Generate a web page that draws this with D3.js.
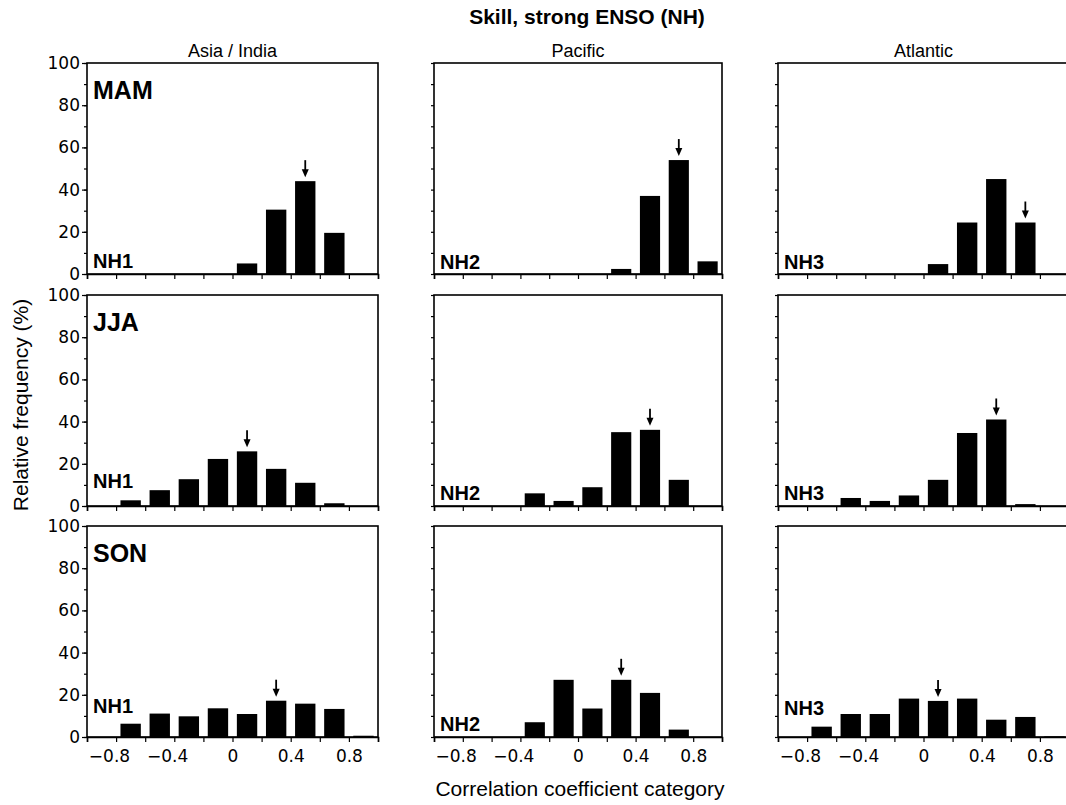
<!DOCTYPE html>
<html>
<head>
<meta charset="utf-8">
<script src="https://cdn.jsdelivr.net/npm/d3@7"></script>
<style>
  html, body { margin: 0; padding: 0; background: #fff; }
  svg { display: block; }
  text { fill: #000; }
</style>
</head>
<body>
<svg id="chart" width="1066" height="805"></svg>
<script>
// ---------------- DATA ----------------
const binCenters = [-0.9, -0.7, -0.5, -0.3, -0.1, 0.1, 0.3, 0.5, 0.7, 0.9];
const seasons = ["MAM", "JJA", "SON"];
const regions = ["Asia / India", "Pacific", "Atlantic"];
const regionCodes = ["NH1", "NH2", "NH3"];
const xTickLabels = [-0.8, -0.4, 0, 0.4, 0.8];
const yTickLabels = [0, 20, 40, 60, 80, 100];

// relative frequency (%) per correlation category, one array per panel
const mamAsia     = [0, 0, 0, 0, 0, 5, 30.5, 44, 19.5, 0];
const mamPacific  = [0, 0, 0, 0, 0, 0, 2.4, 37, 54, 6];
const mamAtlantic = [0, 0, 0, 0, 0, 4.7, 24.4, 45, 24.4, 0];
const jjaAsia     = [0, 2.7, 7.5, 12.7, 22.3, 25.9, 17.6, 11, 1.3, 0];
const jjaPacific  = [0, 0, 0, 6, 2.4, 8.9, 35, 36.1, 12.4, 0];
const jjaAtlantic = [0, 0, 3.8, 2.4, 5, 12.4, 34.6, 41, 0.9, 0];
const sonAsia     = [0, 6.3, 11.1, 9.8, 13.6, 10.9, 17.2, 15.8, 13.3, 0.6];
const sonPacific  = [0, 0, 0, 7, 27.1, 13.5, 27.1, 20.9, 3.5, 0];
const sonAtlantic = [0, 4.9, 10.9, 10.9, 18.2, 17.1, 18.2, 8.2, 9.5, 0.3];

// category marked by the arrow (per region)
const mamArrow = [0.5, 0.7, 0.7];
const jjaArrow = [0.1, 0.5, 0.5];
const sonArrow = [0.3, 0.3, 0.1];

const panelValues = [
  [mamAsia, mamPacific, mamAtlantic],
  [jjaAsia, jjaPacific, jjaAtlantic],
  [sonAsia, sonPacific, sonAtlantic]
];
const panelArrows = [mamArrow, jjaArrow, sonArrow];

// ---------------- LAYOUT ----------------
const colX = [87, 434, 778];
const colW = [291, 288, 291];
const rowY = [63, 295, 526];
const rowH = 211;
const codeLift = [[6, 5, 5], [18, 6, 6], [24, 6, 22]];
const barHalf = 0.07;
const tickFont = "DejaVu Sans, Verdana, sans-serif";
const labelFont = "Liberation Sans, Arial, Helvetica, sans-serif";

const svg = d3.select("#chart");

// Title
svg.append("text")
  .attr("x", 587).attr("y", 24)
  .attr("text-anchor", "middle")
  .style("font-family", labelFont)
  .style("font-weight", "bold")
  .style("font-size", "21px")
  .text("Skill, strong ENSO (NH)");

// Column titles
regions.forEach((r, c) => {
  svg.append("text")
    .attr("x", colX[c] + colW[c] / 2).attr("y", 57)
    .attr("text-anchor", "middle")
    .style("font-family", labelFont)
    .style("font-size", "18px")
    .text(r);
});

// Axis titles
svg.append("text")
  .attr("transform", "translate(28,405) rotate(-90)")
  .attr("text-anchor", "middle")
  .style("font-family", labelFont)
  .style("font-size", "21px")
  .text("Relative frequency (%)");

svg.append("text")
  .attr("x", 580).attr("y", 796)
  .attr("text-anchor", "middle")
  .style("font-family", labelFont)
  .style("font-size", "21px")
  .text("Correlation coefficient category");

const xTickAll = d3.range(11).map(i => Math.round((-1 + i * 0.2) * 10) / 10);
const yTickAll = d3.range(11).map(i => i * 10);
const fmtX = v => {
  const r = Math.round(v * 10) / 10;
  if (!xTickLabels.includes(r)) return "";
  if (r === 0) return "0";
  return (r < 0 ? "\u2212" : "") + Math.abs(r).toFixed(1);
};

for (let r = 0; r < 3; r++) {
  for (let c = 0; c < 3; c++) {
    const x0 = colX[c], w = colW[c], y0 = rowY[r];
    const x = d3.scaleLinear().domain([-1, 1]).range([x0, x0 + w]);
    const y = d3.scaleLinear().domain([0, 100]).range([y0 + rowH, y0]);
    const g = svg.append("g");
    const vals = panelValues[r][c];

    // bars
    g.selectAll("rect.bar")
      .data(binCenters.map((b, i) => ({ b, v: vals[i] })).filter(d => d.v > 0))
      .enter().append("rect")
      .attr("class", "bar")
      .attr("x", d => x(d.b - barHalf))
      .attr("width", d => x(d.b + barHalf) - x(d.b - barHalf))
      .attr("y", d => y(d.v))
      .attr("height", d => y(0) - y(d.v))
      .attr("fill", "#000");

    // frame
    g.append("rect")
      .attr("x", x0).attr("y", y0)
      .attr("width", w).attr("height", rowH)
      .attr("fill", "none")
      .attr("stroke", "#000")
      .attr("stroke-width", 1.6);

    // x axis
    const xa = g.append("g")
      .attr("transform", `translate(0,${y0 + rowH})`)
      .call(d3.axisBottom(x).tickValues(xTickAll).tickSize(5).tickPadding(8)
        .tickFormat(r === 2 ? fmtX : () => ""));
    xa.select(".domain").attr("stroke-width", 1.6);
    xa.selectAll(".tick line").attr("stroke-width", 1.2);
    xa.selectAll(".tick text")
      .style("font-family", tickFont)
      .style("font-size", "17px")
      .attr("dx", d => (d < 0 ? "-0.42em" : 0));

    // y axis minor ticks
    const ya = g.append("g")
      .attr("transform", `translate(${x0},0)`)
      .call(d3.axisLeft(y).tickValues(yTickAll).tickSize(3).tickFormat(() => ""));
    ya.select(".domain").remove();
    ya.selectAll(".tick line").attr("stroke-width", 1.2);

    if (c === 0) {
      const yl = g.append("g")
        .attr("transform", `translate(${x0},0)`)
        .call(d3.axisLeft(y).tickValues(yTickLabels).tickSize(5).tickPadding(2));
      yl.select(".domain").remove();
      yl.selectAll(".tick line").attr("stroke-width", 1.2);
      yl.selectAll(".tick text")
        .style("font-family", tickFont)
        .style("font-size", "17px");
    }

    // arrow over the marked category
    const ab = panelArrows[r][c];
    const ai = binCenters.findIndex(b => Math.abs(b - ab) < 1e-6);
    const ax = x(ab);
    const tipY = y(vals[ai]) - 4;
    g.append("line")
      .attr("x1", ax).attr("x2", ax)
      .attr("y1", tipY - 17).attr("y2", tipY - 6)
      .attr("stroke", "#000").attr("stroke-width", 1.8);
    g.append("path")
      .attr("d", `M${ax - 3.5},${tipY - 8} L${ax + 3.5},${tipY - 8} L${ax},${tipY} Z`)
      .attr("fill", "#000");

    // season label
    if (c === 0) {
      g.append("text")
        .attr("x", x0 + 6).attr("y", y0 + 36)
        .style("font-family", labelFont)
        .style("font-weight", "bold")
        .style("font-size", "25px")
        .text(seasons[r]);
    }
    // region code
    g.append("text")
      .attr("x", x0 + 6).attr("y", y0 + rowH - codeLift[r][c])
      .style("font-family", labelFont)
      .style("font-weight", "bold")
      .style("font-size", "20px")
      .text(regionCodes[c]);
  }
}
</script>
</body>
</html>
